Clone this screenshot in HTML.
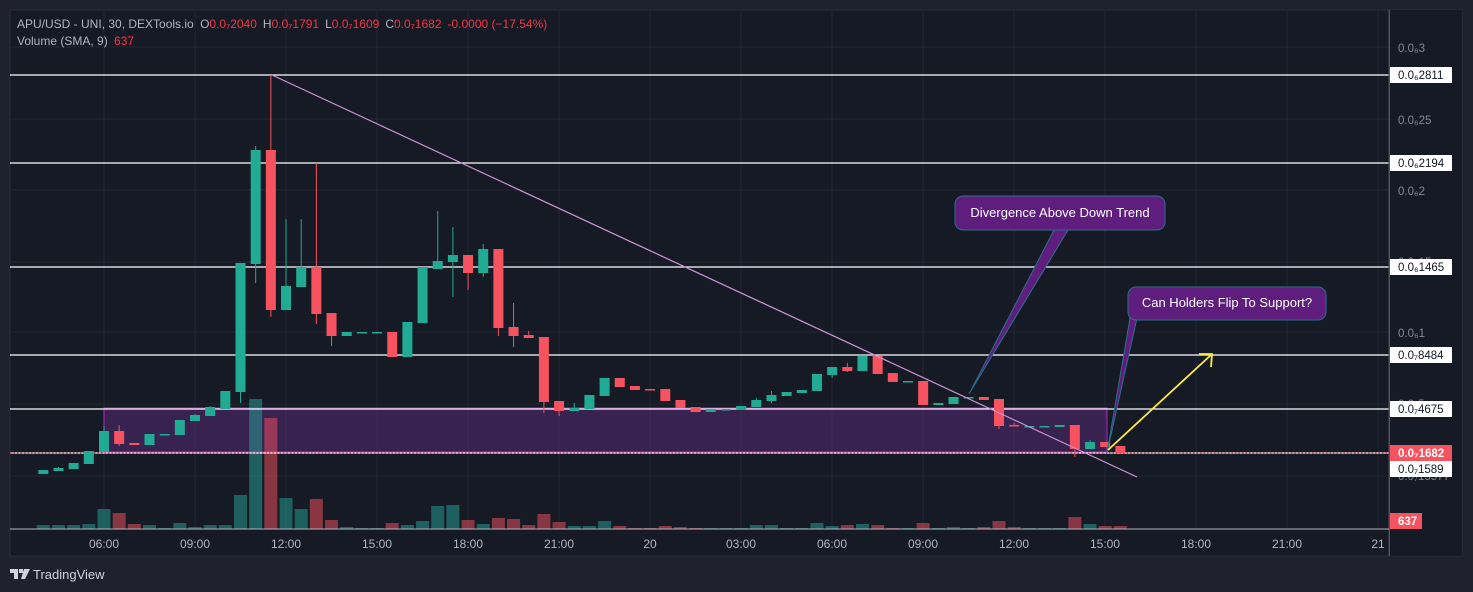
<!DOCTYPE html>
<html><head><meta charset="utf-8"><style>
body{margin:0;background:#1f222d;width:1473px;height:592px;overflow:hidden;font-family:"Liberation Sans",sans-serif}
svg{position:absolute;left:0;top:0}
</style></head><body>
<svg id="s" width="1473" height="592" xmlns="http://www.w3.org/2000/svg"></svg>
<script>
const C=[
[470,474,470,474,'g'],[468,471,467,471,'g'],[463,469,463,469,'g'],[451,464,451,464,'g'],[431,452,426,452,'g'],
[431,444,425,446,'r'],[443,445,443,445,'r'],[434,445,434,445,'g'],[434,435,434,435,'g'],[420,435,420,435,'g'],
[415,421,414,421,'g'],[407,416,406,416,'g'],[391,409,391,409,'g'],[263,392,263,403,'g'],[150,264,146,283,'g'],
[150,310,75,317,'r'],[286,310,219,310,'g'],[267,287,219,287,'g'],[267,314,163,324,'r'],[313,336,313,346,'r'],
[332,336,332,336,'g'],[332,333,332,333,'g'],[332,333,332,333,'g'],[332,357,332,357,'r'],[322,357,322,357,'g'],
[267,323,267,323,'g'],[261,269,211,269,'g'],[255,262,227,297,'g'],[255,273,255,290,'r'],[249,273,244,277,'g'],
[249,328,249,336,'r'],[327,336,303,347,'r'],[335,338,331,338,'r'],[337,402,337,413,'r'],[401,411,401,416,'r'],
[408,411,403,411,'g'],[395,409,395,409,'g'],[378,396,378,396,'g'],[378,387,378,387,'r'],[386,390,386,390,'r'],
[389,390,389,390,'r'],[389,401,389,401,'r'],[400,408,400,408,'r'],[407,412,407,412,'r'],[409,412,409,412,'g'],
[409,410,409,410,'g'],[406,410,406,410,'g'],[400,407,398,407,'g'],[395,401,391,403,'g'],[392,396,392,396,'g'],
[390,393,390,393,'g'],[374,391,374,391,'g'],[367,375,367,378,'g'],[367,371,363,372,'r'],[356,371,356,371,'g'],
[356,374,356,374,'r'],[373,382,373,382,'r'],[381,382,381,382,'g'],[381,405,381,405,'r'],[403,405,403,405,'g'],
[397,404,397,404,'g'],[397,398,397,398,'g'],[397,400,397,400,'r'],[399,426,399,429,'r'],[425,426,423,426,'r'],
[426,427,426,427,'g'],[426,427,426,427,'g'],[425,427,425,427,'g'],[425,449,425,457,'r'],[442,449,440,449,'g'],
[442,447,442,447,'r'],[446,453,446,453,'r']];
const V=[525,525,525,524,509,513,524,525,528,523,527,525,525,495,399,418,498,509,499,520,527,528,528,523,525,521,506,505,520,524,518,519,525,514,
522,526,526,521,526,528,528,526,527,528,528,528,528,525,525,528,528,523,526,525,524,525,528,528,523,528,527,528,527,521,527,528,528,528,517,524,526,526];
let h='';
h+='<rect x="10" y="10" width="1452" height="546" fill="#161a25" stroke="#2a2e39"/>';
// grid
for(const y of [47,119,190,262,332,404,476]) h+=`<line x1="10" x2="1389" y1="${y}" y2="${y}" stroke="#232733"/>`;
const tl=[[104,'06:00'],[195,'09:00'],[286,'12:00'],[377,'15:00'],[468,'18:00'],[559,'21:00'],[650,'20'],[741,'03:00'],[832,'06:00'],[923,'09:00'],[1014,'12:00'],[1105,'15:00'],[1196,'18:00'],[1287,'21:00'],[1378,'21']];
for(const [x,t] of tl){h+=`<line x1="${x}" x2="${x}" y1="10" y2="529" stroke="#232733"/><text x="${x}" y="548" fill="#b2b5be" font-size="12" text-anchor="middle">${t}</text>`;}
// box
h+='<rect x="104" y="408" width="1003" height="44" fill="#5a2a7a" fill-opacity="0.5" stroke="#9c27b0" stroke-width="1.2"/>';
// volume
const X=i=>43.3+15.17*i;
V.forEach((v,i)=>{const r=C[i][4]=='r';h+=`<rect x="${X(i)-6.5}" y="${v}" width="13" height="${529-v}" fill="${r?'#f7525f':'#26a69a'}" fill-opacity="0.5"/>`;});
// hlines
for(const y of [75,163,267,355,409,453]) h+=`<line x1="10" x2="1389" y1="${y}" y2="${y}" stroke="#fff" stroke-width="1.3"/>`;
h+='<line x1="10" x2="1389" y1="453" y2="453" stroke="#f7525f" stroke-dasharray="1.5 2"/>';
// candles
C.forEach((c,i)=>{const x=X(i),col=c[4]=='r'?'#f7525f':'#22ab94';h+=`<line x1="${x}" x2="${x}" y1="${c[2]}" y2="${c[3]}" stroke="${col}"/><rect x="${x-5}" y="${c[0]}" width="10" height="${Math.max(1.5,c[1]-c[0])}" fill="${col}"/>`;});
// trendline
h+='<line x1="272" y1="75" x2="1137" y2="477" stroke="#ce93d8" stroke-width="1.2"/>';
// callouts
h+='<path d="M1054 230 L969 394 L1068 230 Z" fill="#5f1d7e" stroke="#2b6f8c"/>';
h+='<rect x="955" y="196" width="210" height="34" rx="8" fill="#5f1d7e" stroke="#2b6f8c"/><text x="1060" y="217" fill="#fff" font-size="13" text-anchor="middle">Divergence Above Down Trend</text>';
h+='<path d="M1130 318 L1107 453 L1137 318 Z" fill="#5f1d7e" stroke="#2b6f8c"/>';
h+='<rect x="1128" y="287" width="198" height="33" rx="8" fill="#5f1d7e" stroke="#2b6f8c"/><text x="1227" y="307" fill="#fff" font-size="13" text-anchor="middle">Can Holders Flip To Support?</text>';
h+='<line x1="1108" y1="450" x2="1212" y2="354" stroke="#ffeb3b" stroke-width="1.8"/><path d="M1199 354 L1212 354 L1211 367" fill="none" stroke="#ffeb3b" stroke-width="1.8"/>';
// axes separators
h+='<line x1="1389" x2="1389" y1="10" y2="556" stroke="#50535e"/><line x1="10" x2="1389" y1="529" y2="529" stroke="#b2b5be"/>';
h+='<rect x="1390" y="10" width="72" height="546" fill="#161a25"/><line x1="1389.5" x2="1389.5" y1="10" y2="556" stroke="#50535e"/>';
for(const [y,t] of [[48,'0.0₆3'],[120,'0.0₆25'],[191,'0.0₆2'],[262,'0.0₆15'],[333,'0.0₆1'],[404,'0.0₇5'],[476,'0.0₇15577']]) h+=`<text x="1398" y="${y+4}" fill="#868993" font-size="11.5">${t}</text>`;
for(const [y,t] of [[75,'0.0₆2811'],[163,'0.0₆2194'],[267,'0.0₆1465'],[355,'0.0₇8484'],[409,'0.0₇4675'],[469,'0.0₇1589']]) h+=`<rect x="1390" y="${y-8}" width="62" height="16" fill="#fff"/><text x="1398" y="${y+4}" fill="#131722" font-size="11.5">${t}</text>`;
h+='<rect x="1390" y="445" width="62" height="16" fill="#f7525f"/><text x="1398" y="457" fill="#fff" font-size="11.5" font-weight="bold">0.0₇1682</text>';
h+='<rect x="1390" y="513" width="32" height="16" fill="#f7525f"/><text x="1398" y="525" fill="#fff" font-size="11.5" font-weight="bold">637</text>';
// header
h+='<text x="17" y="28" font-size="12" fill="#b2b5be">APU/USD - UNI, 30, DEXTools.io <tspan dx="3">O</tspan><tspan fill="#f23645">0.0₇2040</tspan><tspan dx="6">H</tspan><tspan fill="#f23645">0.0₇1791</tspan><tspan dx="6">L</tspan><tspan fill="#f23645">0.0₇1609</tspan><tspan dx="6">C</tspan><tspan fill="#f23645">0.0₇1682</tspan><tspan dx="6" fill="#f23645">-0.0000 (−17.54%)</tspan></text>';
h+='<text x="17" y="45" font-size="12" fill="#b2b5be">Volume (SMA, 9) <tspan dx="3" fill="#f23645">637</tspan></text>';
// logo
h+='<path d="M10 569 h8 v10 h-4 v-6 h-4z M19 569 h4 v4 h-4z M24 569 h6 l-5 10 h-4z" fill="#d1d4dc"/><text x="33" y="579" font-size="13" fill="#d1d4dc">TradingView</text>';
document.getElementById('s').innerHTML=h;
</script>
</body></html>
